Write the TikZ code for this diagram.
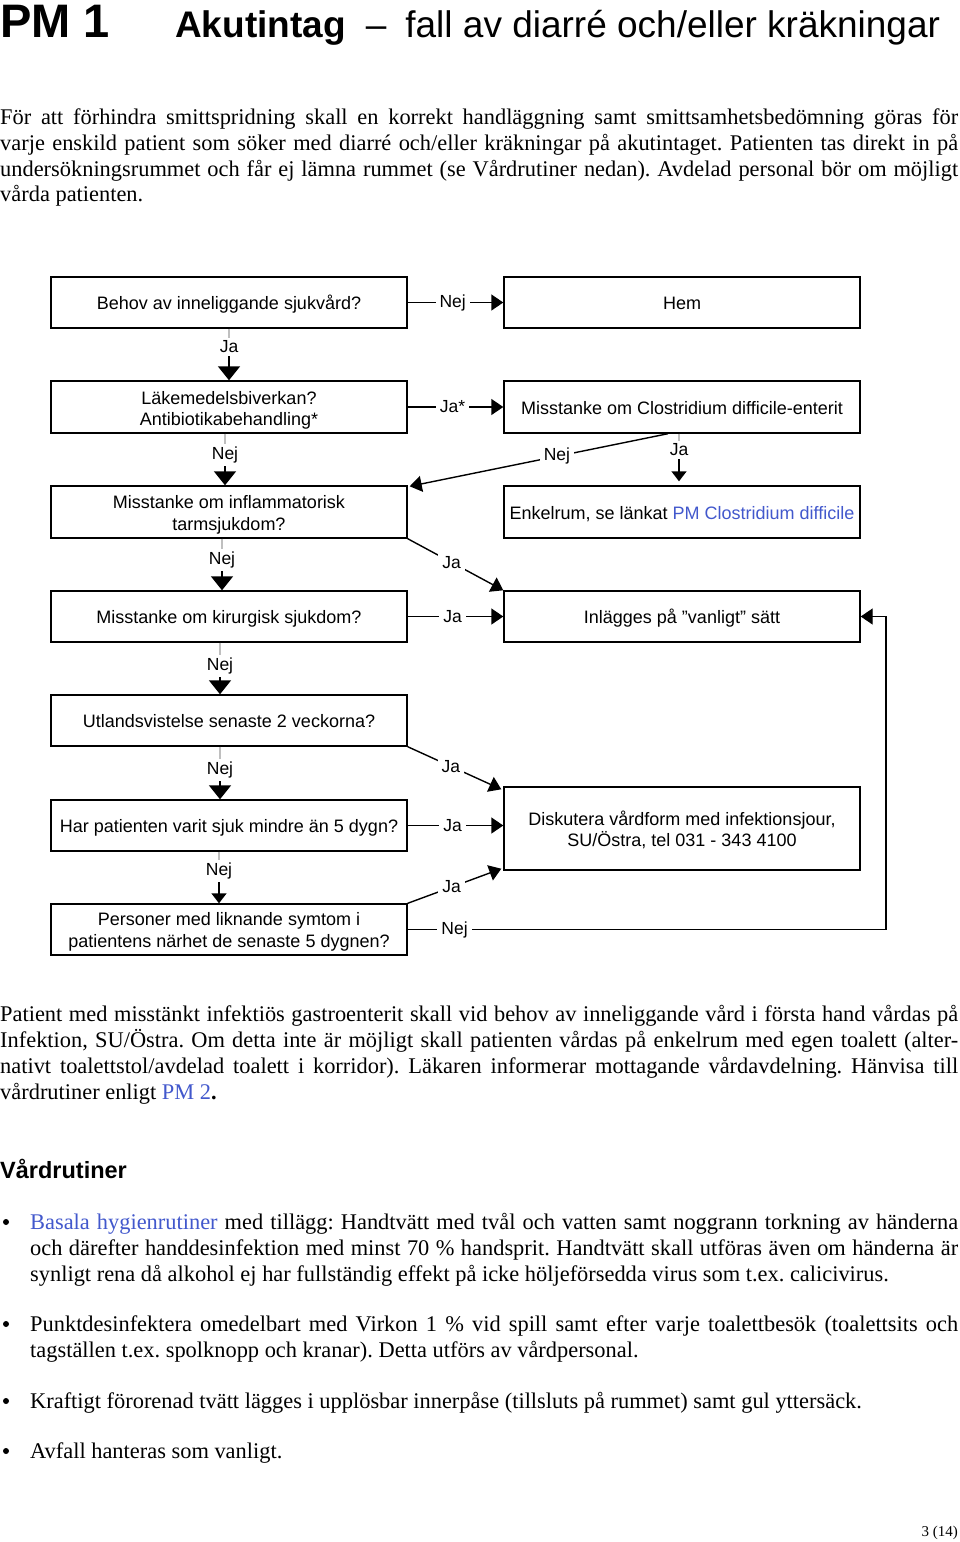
\documentclass[tikz,border=0pt]{standalone}
\usepackage{fontspec}
\setmainfont{Liberation Serif}
\newfontfamily\arial{Liberation Sans}
\usetikzlibrary{arrows.meta,calc}
\definecolor{linkblue}{RGB}{66,88,204}
\frenchspacing
\newcommand{\jl}[1]{\hbox to 958pt{#1}}
\newcommand{\jb}[1]{\hbox to 928pt{#1}}
\tikzset{
  txt/.style={anchor=base west, inner sep=0pt, font=\fontsize{22.4}{26}\selectfont},
  box/.style={draw, line width=1.4pt, minimum width=356pt, minimum height=51pt, inner sep=0pt},
  btext/.style={inner sep=0pt, align=center, text height=13pt, text depth=4pt, font=\arial\fontsize{18}{21.5}\selectfont},
  mtext/.style={inner sep=0pt, align=center, font=\arial\fontsize{18}{21.5}\selectfont},
  lab/.style={fill=white, inner sep=4pt, font=\arial\fontsize{17.5}{21}\selectfont},
  faint/.style={line width=1.2pt, black!25},
  bigarrow/.style={line width=1.4pt, -{Triangle[length=14pt,width=22pt]}},
  smallarrow/.style={line width=1.4pt, -{Triangle[length=10pt,width=15pt]}},
  harrow/.style={line width=1.4pt, -{Triangle[length=12pt,width=16pt]}}
}
\begin{document}
\begin{tikzpicture}[x=1pt,y=-1pt]
\useasboundingbox (0,0) rectangle (960,1542);
% title
\node[anchor=base west, inner sep=0pt, font=\arial\bfseries\fontsize{47}{50}\selectfont] (pm) at (0,37) {PM 1};
\node[anchor=base west, inner sep=0pt, font=\arial\fontsize{37}{40}\selectfont] (title) at (175,37) {\textbf{Akutintag}\hspace{20pt}–\hspace{19pt}fall av diarré och/eller kräkningar};
% paragraph 1
\node[txt] (p1a) at (0,124) {\jl{För att förhindra smittspridning skall en korrekt handläggning samt smittsamhetsbedömning göras för}};
\node[txt] (p1b) at (0,150) {\jl{varje enskild patient som söker med diarré och/eller kräkningar på akutintaget. Patienten tas direkt in på}};
\node[txt] (p1c) at (0,176) {\jl{undersökningsrummet och får ej lämna rummet (se Vårdrutiner nedan). Avdelad personal bör om möjligt}};
\node[txt] (p1d) at (0,201) {vårda patienten.};
% flowchart boxes
\node[box] (b1) at (229,302.5) {};
\node[btext] (b1t) at ($(b1.center)+(0,2.5)$) {Behov av inneliggande sjukvård?};
\node[box, minimum height=52pt] (b2) at (229,407) {};
\node[mtext] (b2t) at ($(b2.center)+(0,3.5)$) {Läkemedelsbiverkan?\\Antibiotikabehandling*};
\node[box, minimum height=52pt] (b3) at (229,512) {};
\node[mtext] (b3t) at ($(b3.center)+(0,3)$) {Misstanke om inflammatorisk\\tarmsjukdom?};
\node[box] (b4) at (229,616.5) {};
\node[btext] (b4t) at ($(b4.center)+(0,2.5)$) {Misstanke om kirurgisk sjukdom?};
\node[box] (b5) at (229,720.5) {};
\node[btext] (b5t) at ($(b5.center)+(0,2.5)$) {Utlandsvistelse senaste 2 veckorna?};
\node[box] (b6) at (229,825.5) {};
\node[btext] (b6t) at ($(b6.center)+(0,2.5)$) {Har patienten varit sjuk mindre än 5 dygn?};
\node[box] (b7) at (229,929.5) {};
\node[mtext] (b7t) at ($(b7.center)+(0,2.5)$) {Personer med liknande symtom i\\patientens närhet de senaste 5 dygnen?};
\node[box] (r1) at (682,302.5) {};
\node[btext] (r1t) at ($(r1.center)+(0,2.5)$) {Hem};
\node[box, minimum height=52pt] (r2) at (682,407) {};
\node[btext] (r2t) at ($(r2.center)+(0,2.5)$) {Misstanke om Clostridium difficile-enterit};
\node[box, minimum height=52pt] (r3) at (682,512) {};
\node[btext] (r3t) at ($(r3.center)+(0,2.5)$) {Enkelrum, se länkat {\color{linkblue}PM Clostridium difficile}};
\node[box] (r4) at (682,616.5) {};
\node[btext] (r4t) at ($(r4.center)+(0,2.5)$) {Inlägges på ”vanligt” sätt};
\node[box, minimum height=83pt] (r5) at (682,828.5) {};
\node[mtext] (r5t) at ($(r5.center)+(0,1.5)$) {Diskutera vårdform med infektionsjour,\\SU/Östra, tel 031 - 343 4100};
% vertical connectors
\node[lab, inner sep=3pt] (l12) at (229,347) {Ja};
\draw[faint] (b1.south -| l12) -- (l12.north);
\draw[bigarrow] (l12.south) -- (b2.north -| l12);
\node[lab, inner sep=3pt] (l23) at (225,455) {Nej};
\draw[faint] (b2.south -| l23) -- (l23.north);
\draw[bigarrow] (l23.south) -- (b3.north -| l23);
\node[lab, inner sep=3pt] (l34) at (222,560) {Nej};
\draw[faint] (b3.south -| l34) -- (l34.north);
\draw[bigarrow] (l34.south) -- (b4.north -| l34);
\node[lab, inner sep=3pt] (l45) at (220,666) {Nej};
\draw[faint] (b4.south -| l45) -- (l45.north);
\draw[bigarrow] (l45.south) -- (b5.north -| l45);
\node[lab, inner sep=3pt] (l56) at (220,770) {Nej};
\draw[faint] (b5.south -| l56) -- (l56.north);
\draw[bigarrow] (l56.south) -- (b6.north -| l56);
\node[lab, inner sep=3pt] (l67) at (219,871) {Nej};
\draw[faint] (b6.south -| l67) -- (l67.north);
\draw[smallarrow] (l67.south) -- (b7.north -| l67);
\node[lab, inner sep=3pt] (lr23) at (679,450) {Ja};
\draw[faint] (r2.south -| lr23) -- (lr23.north);
\draw[smallarrow, shorten >=4pt] (lr23.south) -- (r3.north -| lr23);
% horizontal connectors
\draw[harrow] (b1.east) -- node[lab, pos=0.47] {Nej} (r1.west);
\draw[harrow] (b2.east) -- node[lab, pos=0.47] {Ja*} (r2.west);
\draw[harrow] (b4.east) -- node[lab, pos=0.47] {Ja} (r4.west);
\draw[harrow] (b6.east) -- node[lab, pos=0.47] {Ja} (r5.west |- b6.east);
% diagonal connectors
\coordinate (r2out) at ($(r2.south)+(-14,0)$);
\draw[harrow] (r2out) -- node[lab, pos=0.43] {Nej} ($(b3.north east)+(2,1)$);
\draw[harrow] (b3.south east) -- node[lab, pos=0.46] {Ja} (r4.north west);
\draw[harrow] (b5.south east) -- node[lab, pos=0.46] {Ja} ($(r5.north west)+(-2,3)$);
\draw[harrow] (b7.north east) -- node[lab, pos=0.47] {Ja} ($(r5.south west)+(-2,-2)$);
\coordinate (rt) at (886,617);
\draw[harrow] (b7.east) -- node[lab, pos=0.098] {Nej} (b7.east -| rt) |- (r4.east);
% paragraph 2
\node[txt] (p2a) at (0,1021) {\jl{Patient med misstänkt infektiös gastroenterit skall vid behov av inneliggande vård i första hand vårdas på}};
\node[txt] (p2b) at (0,1047) {\jl{Infektion, SU/Östra. Om detta inte är möjligt skall patienten vårdas på enkelrum med egen toalett (alter-}};
\node[txt] (p2c) at (0,1073) {\jl{nativt toalettstol/avdelad toalett i korridor). Läkaren informerar mottagande vårdavdelning. Hänvisa till}};
\node[txt] (p2d) at (0,1099) {vårdrutiner enligt {\color{linkblue}PM 2}\textbf{.}};
% heading
\node[anchor=base west, inner sep=0pt, font=\arial\bfseries\fontsize{23.5}{26}\selectfont] (h) at (0,1178) {Vårdrutiner};
% bullets
\tikzset{dot/.style={circle, fill=black, inner sep=0pt, minimum size=6pt}}
\node[dot] (d1) at (6,1222) {};
\node[txt] (u1a) at (30,1229) {\jb{{\color{linkblue}Basala hygienrutiner} med tillägg: Handtvätt med tvål och vatten samt noggrann torkning av händerna}};
\node[txt] (u1b) at (30,1255) {\jb{och därefter handdesinfektion med minst 70 \% handsprit. Handtvätt skall utföras även om händerna är}};
\node[txt] (u1c) at (30,1281) {synligt rena då alkohol ej har fullständig effekt på icke höljeförsedda virus som t.ex. calicivirus.};
\node[dot] (d2) at (6,1324) {};
\node[txt] (u2a) at (30,1331) {\jb{Punktdesinfektera omedelbart med Virkon 1 \% vid spill samt efter varje toalettbesök (toalettsits och}};
\node[txt] (u2b) at (30,1357) {tagställen t.ex. spolknopp och kranar). Detta utförs av vårdpersonal.};
\node[dot] (d3) at (6,1401) {};
\node[txt] (u3) at (30,1408) {Kraftigt förorenad tvätt lägges i upplösbar innerpåse (tillsluts på rummet) samt gul yttersäck.};
\node[dot] (d4) at (6,1451) {};
\node[txt] (u4) at (30,1458) {Avfall hanteras som vanligt.};
% page number
\node[anchor=base east, inner sep=0pt, font=\fontsize{15}{17}\selectfont] (pg) at (958,1536) {3 (14)};
\end{tikzpicture}
\end{document}
